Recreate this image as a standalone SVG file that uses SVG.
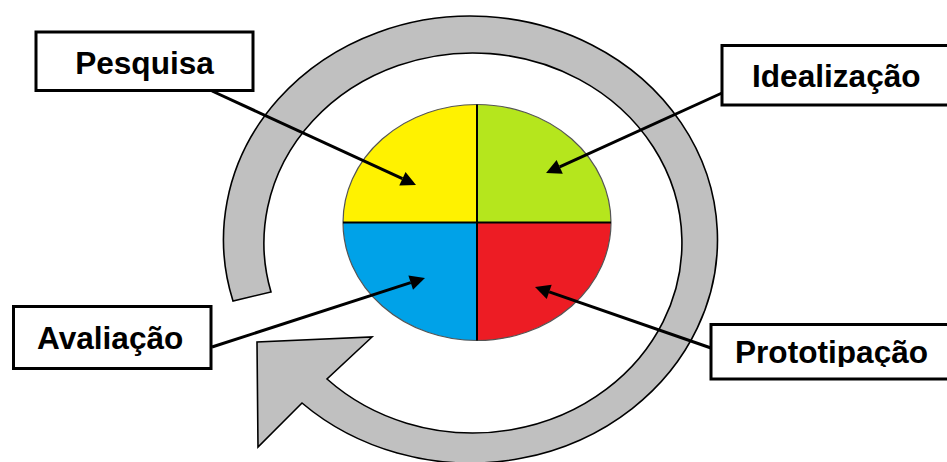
<svg xmlns="http://www.w3.org/2000/svg" width="947" height="462" viewBox="0 0 947 462">
  <style>
    .box { fill: #ffffff; stroke: #000000; stroke-width: 3; }
    .label { font-family: "Liberation Sans", Arial, sans-serif; font-weight: bold; font-size: 31.6px; fill: #000000; }
    .conn { stroke: #000000; stroke-width: 3; fill: none; marker-end: url(#head); }
    .ring { fill: #c0c0c0; stroke: #000000; stroke-width: 1.6; stroke-linejoin: miter; }
    .div { stroke: #000000; stroke-width: 2; }
  </style>
  <defs>
    <marker id="head" viewBox="0 0 15 15" markerWidth="15" markerHeight="15" refX="0" refY="7.5" orient="auto" markerUnits="userSpaceOnUse" overflow="visible">
      <path d="M0,0 L15,7.5 L0,15 Z" fill="#000000"/>
    </marker>
    <clipPath id="clipProto">
      <rect x="711" y="324" width="236" height="43"/>
    </clipPath>
  </defs>
  <rect x="0" y="0" width="947" height="462" fill="#ffffff"/>

  <g id="cycle-arrow">
    <path class="ring" d="M233,301 A247,223.5 0 1 1 302,403 L258,447 L257,342 L372,337 L327,379 A209,190 0 1 0 271,292 Z"/>
  </g>

  <g id="pie">
    <path d="M477,222.5 L343,222.5 A134,118 0 0 1 477,104.5 Z" fill="#fff200"/>
    <path d="M477,222.5 L477,104.5 A134,118 0 0 1 611,222.5 Z" fill="#b5e61d"/>
    <path d="M477,222.5 L611,222.5 A134,118 0 0 1 477,340.5 Z" fill="#ed1c24"/>
    <path d="M477,222.5 L477,340.5 A134,118 0 0 1 343,222.5 Z" fill="#00a2e8"/>
    <ellipse cx="477" cy="222.5" rx="134" ry="118" fill="none" stroke="#555555" stroke-width="1.2"/>
    <line class="div" x1="343" y1="222.5" x2="611" y2="222.5"/>
    <line class="div" x1="477" y1="104.5" x2="477" y2="340.5"/>
  </g>

  <g id="connectors">
    <line class="conn" x1="212" y1="91" x2="402.4" y2="178.7"/>
    <line class="conn" x1="722" y1="93" x2="559.7" y2="166.8"/>
    <line class="conn" x1="212" y1="347" x2="410.7" y2="282.6"/>
    <line class="conn" x1="711" y1="348" x2="549.2" y2="291.9"/>
  </g>

  <g id="pesquisa">
    <rect class="box" x="36" y="32" width="217" height="58.5"/>
    <text class="label" x="144.5" y="73.5" text-anchor="middle">Pesquisa</text>
  </g>

  <g id="idealizacao">
    <rect class="box" x="722" y="45.5" width="240" height="59.5"/>
    <text class="label" x="752" y="87">Idealização</text>
  </g>

  <g id="avaliacao">
    <rect class="box" x="13.5" y="306.5" width="197.5" height="62"/>
    <text class="label" x="37" y="348.5">Avaliação</text>
  </g>

  <g id="prototipacao">
    <rect class="box" x="711" y="324.5" width="250" height="54.5"/>
    <text class="label" x="735" y="363" clip-path="url(#clipProto)">Prototipação</text>
  </g>
</svg>
